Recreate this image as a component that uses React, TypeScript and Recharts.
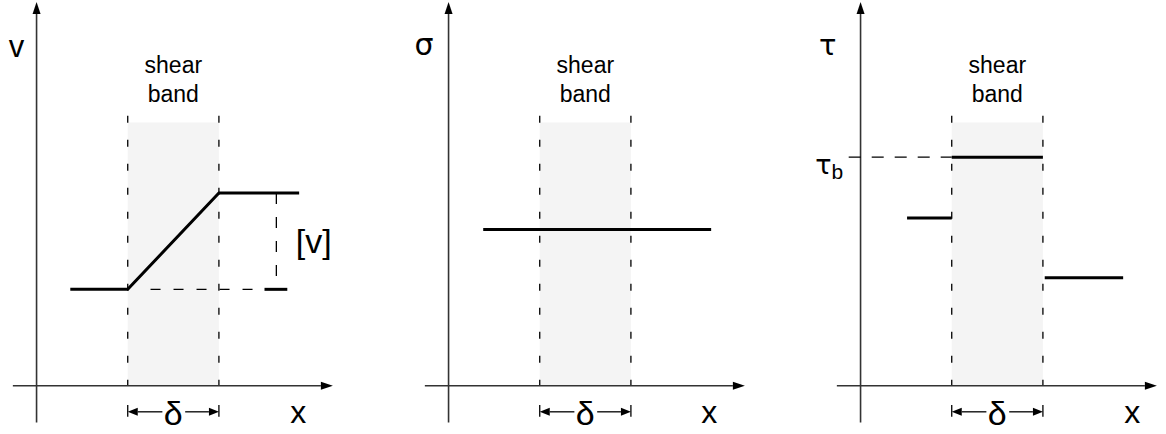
import {
  ComposedChart,
  Line,
  XAxis,
  YAxis,
  ReferenceArea,
  ReferenceLine,
  ReferenceDot,
} from 'recharts';

const FONT = '"Liberation Sans", Arial, Helvetica, sans-serif';
const GREEK_FONT = '"DejaVu Sans", "Liberation Sans", sans-serif';

// Shear band edges along x (band width δ = 1 unit)
const bandEdges = [1, 2];

// Displacement profile v(x): constant, linear ramp across the band, constant
const vX = [0.37, 1, 2, 2.88];
const vY = [1, 1, 2, 2];
// Jump [v] between the two plateaus
const vJumpX = 2.63;

// Normal stress σ(x): uniform through the band
const sigmaX = [0.38, 2.88];
const sigmaY = [1.62, 1.62];

// Shear stress τ(x): left of the band, inside the band (τ_b), right of the band
const tauLeftX = [0.51, 1];
const tauLeftY = [1.74, 1.74];
const tauBandX = [1, 2];
const tauBandY = [2.37, 2.37];
const tauRightX = [2.02, 2.88];
const tauRightY = [1.12, 1.12];

const X_DOMAIN: [number, number] = [-0.73, 3.35];
const Y_DOMAIN: [number, number] = [-0.5, 4];
const PANEL_W = 372;
const PANEL_H = 434;

// axis extents, band/guide heights and the δ dimension line
const AXIS_X = [-0.26, 3.25];
const AXIS_Y = [-0.38, 3.98];
const BAND_TOP = 2.73;
const GUIDE_TOP = 2.8;
const DIM_Y = -0.27;

const toPoints = (xs: number[], ys: number[]) => xs.map((x, i) => ({ x, y: ys[i] }));

// line with a filled triangular head at its end point
function arrowShape(len: number, half: number, stroke: string, width: number) {
  return (p: any) => {
    const { x1, y1, x2, y2 } = p;
    const dx = x2 - x1;
    const dy = y2 - y1;
    const d = Math.hypot(dx, dy) || 1;
    const ux = dx / d;
    const uy = dy / d;
    const bx = x2 - ux * len;
    const by = y2 - uy * len;
    const pts = [
      `${x2},${y2}`,
      `${bx - uy * half},${by + ux * half}`,
      `${bx + uy * half},${by - ux * half}`,
    ].join(' ');
    return (
      <g>
        <line x1={x1} y1={y1} x2={bx} y2={by} stroke={stroke} strokeWidth={width} />
        <polygon points={pts} fill="#000" />
      </g>
    );
  };
}

const axisArrow = arrowShape(12, 4, '#333', 1.6);
const dimArrow = arrowShape(10, 4, '#000', 1.3);

function textMark(key: string, x: number, y: number, text: string, size: number, family = FONT) {
  return (
    <ReferenceDot
      key={key}
      x={x}
      y={y}
      r={0}
      ifOverflow="visible"
      shape={(p: any) => (
        <text x={p.cx} y={p.cy} textAnchor="middle" fontSize={size} fontFamily={family} fill="#000">
          {text}
        </text>
      )}
    />
  );
}

// band, its dashed edges, axes and the δ dimension shared by every panel
function commonMarks(xLabelX: number) {
  const [b0, b1] = bandEdges;
  const mid = (b0 + b1) / 2;
  return [
    <ReferenceArea key="band" x1={b0} x2={b1} y1={0} y2={BAND_TOP} fill="#f4f4f4" fillOpacity={1} stroke="none" />,
    ...bandEdges.map((b) => (
      <ReferenceLine
        key={`edge-${b}`}
        segment={[{ x: b, y: GUIDE_TOP }, { x: b, y: 0 }]}
        stroke="#000"
        strokeWidth={1.3}
        strokeDasharray="7 17"
        ifOverflow="visible"
      />
    )),
    <ReferenceLine key="ax-x" segment={[{ x: AXIS_X[0], y: 0 }, { x: AXIS_X[1], y: 0 }]} shape={axisArrow} ifOverflow="visible" />,
    <ReferenceLine key="ax-y" segment={[{ x: 0, y: AXIS_Y[0] }, { x: 0, y: AXIS_Y[1] }]} shape={axisArrow} ifOverflow="visible" />,
    ...bandEdges.map((b) => (
      <ReferenceLine
        key={`tick-${b}`}
        segment={[{ x: b, y: DIM_Y + 0.07 }, { x: b, y: DIM_Y - 0.05 }]}
        stroke="#000"
        strokeWidth={1.3}
        ifOverflow="visible"
      />
    )),
    <ReferenceLine key="dim-l" segment={[{ x: b0 + 0.38, y: DIM_Y }, { x: b0, y: DIM_Y }]} shape={dimArrow} ifOverflow="visible" />,
    <ReferenceLine key="dim-r" segment={[{ x: b1 - 0.37, y: DIM_Y }, { x: b1, y: DIM_Y }]} shape={dimArrow} ifOverflow="visible" />,
    textMark('shear', mid, 3.24, 'shear', 23),
    textMark('bandtxt', mid, 2.94, 'band', 23),
    textMark('delta', mid, -0.41, 'δ', 34),
    textMark('xlab', xLabelX, -0.385, 'x', 32),
  ];
}

function Panel({ left, children }: { left: number; children: any }) {
  return (
    <div style={{ position: 'absolute', left, top: 0 }}>
      <ComposedChart width={PANEL_W} height={PANEL_H} margin={{ top: 0, right: 0, bottom: 0, left: 0 }}>
        <XAxis type="number" dataKey="x" domain={X_DOMAIN} hide allowDataOverflow />
        <YAxis type="number" dataKey="y" domain={Y_DOMAIN} hide allowDataOverflow />
        {children}
      </ComposedChart>
    </div>
  );
}

const profileProps = {
  type: 'linear' as const,
  dataKey: 'y',
  stroke: '#000',
  strokeWidth: 3,
  dot: false,
  activeDot: false,
  isAnimationActive: false,
};

export default function App() {
  const vLow = vY[0];
  const vHigh = vY[vY.length - 1];
  return (
    <div
      style={{
        position: 'absolute',
        left: 0,
        top: 0,
        width: 1166,
        height: 434,
        overflow: 'hidden',
        background: '#fff',
      }}
    >
      <Panel left={-30}>
        {commonMarks(2.87)}
        <ReferenceLine
          segment={[{ x: bandEdges[0] + 0.25, y: vLow }, { x: 2.5, y: vLow }]}
          stroke="#000"
          strokeWidth={1.3}
          strokeDasharray="10 13"
        />
        <ReferenceLine segment={[{ x: 2.5, y: vLow }, { x: 2.75, y: vLow }]} stroke="#000" strokeWidth={3} />
        <ReferenceLine
          segment={[{ x: vJumpX, y: vHigh }, { x: vJumpX, y: vLow }]}
          stroke="#000"
          strokeWidth={1.3}
          strokeDasharray="11 13"
        />
        <Line data={toPoints(vX, vY)} {...profileProps} />
        {textMark('vlab', -0.22, 3.41, 'v', 31)}
        {textMark('jump', 3.04, 1.38, '[v]', 34)}
      </Panel>

      <Panel left={382}>
        {commonMarks(2.86)}
        <Line data={toPoints(sigmaX, sigmaY)} {...profileProps} />
        {textMark('slab', -0.27, 3.43, 'σ', 30, GREEK_FONT)}
      </Panel>

      <Panel left={794}>
        {commonMarks(2.98)}
        <ReferenceLine
          segment={[{ x: -0.13, y: tauBandY[0] }, { x: bandEdges[0], y: tauBandY[0] }]}
          stroke="#000"
          strokeWidth={1.3}
          strokeDasharray="12 11"
          ifOverflow="visible"
        />
        <Line data={toPoints(tauLeftX, tauLeftY)} {...profileProps} />
        <Line data={toPoints(tauBandX, tauBandY)} {...profileProps} />
        <Line data={toPoints(tauRightX, tauRightY)} {...profileProps} />
        {textMark('tlab', -0.36, 3.43, 'τ', 29, GREEK_FONT)}
        <ReferenceDot
          x={-0.19}
          y={tauBandY[0] - 0.17}
          r={0}
          ifOverflow="visible"
          shape={(p: any) => (
            <text x={p.cx} y={p.cy} textAnchor="end" fill="#000">
              <tspan fontSize={27} fontFamily={GREEK_FONT}>τ</tspan>
              <tspan fontSize={21} fontFamily={FONT} dy={5}>b</tspan>
            </text>
          )}
        />
      </Panel>
    </div>
  );
}
